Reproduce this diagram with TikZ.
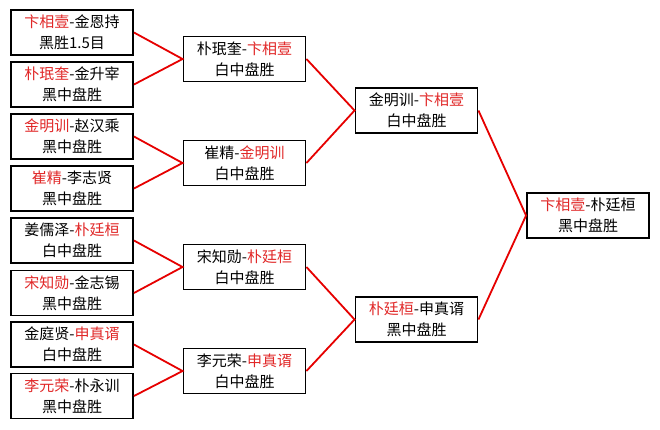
\documentclass[tikz,border=0pt]{standalone}
\usepackage{fontspec}
\newfontfamily\cjk{Noto Sans CJK SC}
\definecolor{rd}{RGB}{225,40,40}
\definecolor{ln}{RGB}{230,0,0}
\newcommand{\rn}[1]{\textcolor{rd}{#1}}
\begin{document}
\begin{tikzpicture}[x=1pt,y=-1pt,
  box/.style={draw=black,line width=1.9pt,minimum width=122pt,minimum height=45pt,
    align=center,font=\cjk\fontsize{15}{21}\selectfont,inner sep=0pt,fill=white},
  link/.style={draw=ln,line width=1.8pt}]
\useasboundingbox[fill=white] (0,0) rectangle (660,429);
\node[box] (a1) at (72,32.5) {\rn{卞相壹}-金恩持\\黑胜1.5目};
\node[box] (a2) at (72,84.5) {\rn{朴珉奎}-金升宰\\黑中盘胜};
\node[box] (a3) at (72,136.5) {\rn{金明训}-赵汉乘\\黑中盘胜};
\node[box] (a4) at (72,188.5) {\rn{崔精}-李志贤\\黑中盘胜};
\node[box] (a5) at (72,240.5) {姜儒泽-\rn{朴廷桓}\\白中盘胜};
\node[box] (a6) at (72,293) {\rn{宋知勋}-金志锡\\黑中盘胜};
\node[box] (a7) at (72,344.5) {金庭贤-\rn{申真谞}\\白中盘胜};
\node[box] (a8) at (72,396) {\rn{李元荣}-朴永训\\黑中盘胜};
\node[box] (b1) at (244.5,59) {朴珉奎-\rn{卞相壹}\\白中盘胜};
\node[box] (b2) at (244.5,163) {崔精-\rn{金明训}\\白中盘胜};
\node[box] (b3) at (244.5,267) {宋知勋-\rn{朴廷桓}\\白中盘胜};
\node[box] (b4) at (244.5,371) {李元荣-\rn{申真谞}\\白中盘胜};
\node[box] (c1) at (416.5,110.5) {金明训-\rn{卞相壹}\\白中盘胜};
\node[box] (c2) at (416.5,319.5) {\rn{朴廷桓}-申真谞\\黑中盘胜};
\node[box] (d) at (588,215.5) {\rn{卞相壹}-朴廷桓\\黑中盘胜};
\draw[link] (a1.east) -- (b1.west) -- (a2.east);
\draw[link] (a3.east) -- (b2.west) -- (a4.east);
\draw[link] (a5.east) -- (b3.west) -- (a6.east);
\draw[link] (a7.east) -- (b4.west) -- (a8.east);
\draw[link] (b1.east) -- (c1.west) -- (b2.east);
\draw[link] (b3.east) -- (c2.west) -- (b4.east);
\draw[link] (c1.east) -- (d.west) -- (c2.east);
\end{tikzpicture}
\end{document}
